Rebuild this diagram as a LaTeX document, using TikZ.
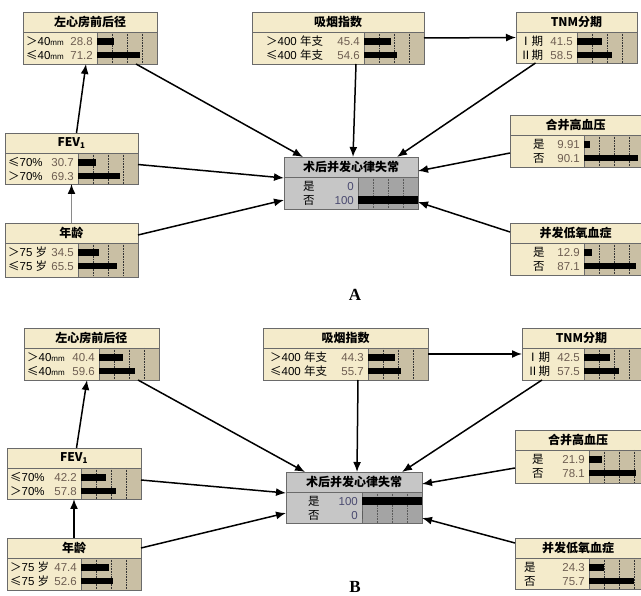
\documentclass[tikz,border=0pt]{standalone}
\usepackage{fontspec}
\setmainfont{Liberation Sans}
\newfontfamily\cjk{Noto Sans CJK SC}
\newfontfamily\serifbf{Liberation Serif}
\usetikzlibrary{arrows.meta,calc}

\definecolor{creamfill}{HTML}{F4EBCB}
\definecolor{creambar}{HTML}{C9BFA4}
\definecolor{grayfill}{HTML}{C6C6C6}
\definecolor{graybar}{HTML}{A4A4A4}
\definecolor{bordercol}{HTML}{6A6A6A}
\definecolor{creamval}{HTML}{6E5E52}
\definecolor{grayval}{HTML}{4A4A70}
\definecolor{linkgray}{HTML}{8A8A8A}

\tikzset{
  netbox/.style={draw=bordercol, line width=0.9pt, inner sep=0pt, outer sep=0pt, anchor=north west},
  titletext/.style={font=\fontsize{12}{13}\selectfont\cjk\bfseries, inner sep=0pt},
  rowtext/.style={font=\fontsize{11.5}{12}\selectfont, inner sep=0pt, anchor=base west},
  valtext/.style={font=\fontsize{11.5}{12}\selectfont, inner sep=0pt, anchor=base east},
  link/.style={line width=1.5pt, -{Latex[length=10pt,width=8pt,color=black]}},
  creamgrid/.style={densely dotted, line width=0.6pt, draw=black!80},
  graygrid/.style={densely dotted, line width=0.6pt, draw=black!65},
  caplabel/.style={font=\serifbf\bfseries\fontsize{17}{17}\selectfont, inner sep=0pt},
}

\newcommand\sgt{{\cjk ＞}}
\newcommand\sle{{\cjk ≤}}
\newcommand\mmu{{\fontsize{8}{8}\selectfont mm}}
\def\barh{3.2}

\newcommand\netframe[9]{%
  \gdef\nname{#1}\gdef\nxa{#2}\gdef\nya{#3}\gdef\nxb{#4}\gdef\ndiv{#6}\gdef\noff{#7}\gdef\nkind{#8}%
  \node[netbox, fill=#8fill, minimum width={(#4-#2)*1pt}, minimum height={(#5-#3)*1pt}] (#1) at (#2,#3) {};
  \fill[#8bar] (#6,#3+20) rectangle (#4,#5);
  \foreach \k in {15,30,45} {\draw[#8grid] (#6+\k,#3+20) -- (#6+\k,#5);}
  \draw[bordercol, line width=0.7pt] (#2,#3+20) -- (#4,#3+20) (#6,#3+20) -- (#6,#5);
  \draw[bordercol, line width=0.9pt] (#1.north west) rectangle (#1.south east);
  \node[titletext] (#1-t) at ({(#2+#4)/2},#3+10) {#9};
}

\newcommand\netrow[4]{%
  \ifnum#1=1 \def\roff{9.5}\else\def\roff{23}\fi
  \pgfmathsetmacro\ry{\nya+20+\roff}%
  \node[rowtext] (\nname-l#1) at ({\nxa+\noff},\ry+4.1) {#2};
  \node[valtext, text=\nkind val] (\nname-v#1) at ({\ndiv-4},\ry+4.1) {#3};
  \pgfmathsetmacro\rx{\ndiv+0.6*#4}%
  \fill[black] (\ndiv,\ry-\barh) rectangle (\rx,\ry+\barh);
}

\begin{document}
\begin{tikzpicture}[x=1pt,y=-1pt]
\useasboundingbox (0,0) rectangle (641,596);
\fill[white] (0,0) rectangle (641,596);

% ================= Panel A =================
\netframe{lA}{23}{12}{157}{64}{97}{3}{cream}{左心房前后径}
\netrow{1}{\sgt 40\mmu}{28.8}{28.8}
\netrow{2}{\sle 40\mmu}{71.2}{71.2}

\netframe{sA}{252}{12}{424}{64}{364}{14}{cream}{吸烟指数}
\netrow{1}{\sgt 400 {\cjk 年支}}{45.4}{45.4}
\netrow{2}{\sle 400 {\cjk 年支}}{54.6}{54.6}

\netframe{tA}{516}{12}{637}{63}{577}{4}{cream}{TNM分期}
\netrow{1}{{\cjk Ⅰ期}}{41.5}{41.5}
\netrow{2}{{\cjk Ⅱ期}}{58.5}{58.5}

\netframe{fA}{5}{133}{138}{184}{78}{3}{cream}{FEV\textsubscript{1}}
\netrow{1}{\sle 70\%}{30.7}{30.7}
\netrow{2}{\sgt 70\%}{69.3}{69.3}

\netframe{aA}{5}{223}{138}{277}{78}{3}{cream}{年龄}
\netrow{1}{\sgt 75 {\cjk 岁}}{34.5}{34.5}
\netrow{2}{\sle 75 {\cjk 岁}}{65.5}{65.5}

\netframe{hA}{510}{115}{641}{167}{584}{23}{cream}{合并高血压}
\netrow{1}{{\cjk 是}}{9.91}{9.91}
\netrow{2}{{\cjk 否}}{90.1}{90.1}

\netframe{dA}{510}{223}{641}{275}{584}{23}{cream}{并发低氧血症}
\netrow{1}{{\cjk 是}}{12.9}{12.9}
\netrow{2}{{\cjk 否}}{87.1}{87.1}

\def\barh{4}
\netframe{cA}{284}{157}{418}{209}{358}{19}{gray}{术后并发心律失常}
\netrow{1}{{\cjk 是}}{0}{0}
\netrow{2}{{\cjk 否}}{100}{100}
\def\barh{3.2}

\draw[link] ($(fA.north)+(5,0)$) -- ($(lA.south)+(-4,0)$);
\draw[link, draw=linkgray] (aA.north) -- (fA.south);
\draw[link] ($(lA.south)+(46,0)$) -- ($(cA.north west)+(19,0)$);
\draw[link] ($(sA.south)+(18,0)$) -- ($(cA.north)+(2,0)$);
\draw[link] ($(tA.south)+(-41,0)$) -- ($(cA.north)+(46,0)$);
\draw[link] (sA.east) -- (tA.west);
\draw[link] ($(hA.west)+(0,12)$) -- ($(cA.east)+(0,-12)$);
\draw[link] ($(dA.west)+(0,-17)$) -- ($(cA.east)+(0,19)$);
\draw[link] ($(fA.east)+(0,6)$) -- ($(cA.west)+(0,-5)$);
\draw[link] ($(aA.east)+(0,-15)$) -- ($(cA.west)+(0,17)$);

\node[caplabel] (labA) at (355,295) {A};

% ================= Panel B =================
\netframe{lB}{24}{328}{159}{380}{99}{3}{cream}{左心房前后径}
\netrow{1}{\sgt 40\mmu}{40.4}{40.4}
\netrow{2}{\sle 40\mmu}{59.6}{59.6}

\netframe{sB}{263}{328}{428}{380}{368}{7}{cream}{吸烟指数}
\netrow{1}{\sgt 400 {\cjk 年支}}{44.3}{44.3}
\netrow{2}{\sle 400 {\cjk 年支}}{55.7}{55.7}

\netframe{tB}{522}{328}{641}{380}{584}{5}{cream}{TNM分期}
\netrow{1}{{\cjk Ⅰ期}}{42.5}{42.5}
\netrow{2}{{\cjk Ⅱ期}}{57.5}{57.5}

\netframe{fB}{7}{448}{141}{499}{81}{3}{cream}{FEV\textsubscript{1}}
\netrow{1}{\sle 70\%}{42.2}{42.2}
\netrow{2}{\sgt 70\%}{57.8}{57.8}

\netframe{aB}{7}{538}{141}{590}{81}{3}{cream}{年龄}
\netrow{1}{\sgt 75 {\cjk 岁}}{47.4}{47.4}
\netrow{2}{\sle 75 {\cjk 岁}}{52.6}{52.6}

\netframe{hB}{515}{430}{641}{483}{589}{17}{cream}{合并高血压}
\netrow{1}{{\cjk 是}}{21.9}{21.9}
\netrow{2}{{\cjk 否}}{78.1}{78.1}

\netframe{dB}{515}{538}{641}{589}{589}{9}{cream}{并发低氧血症}
\netrow{1}{{\cjk 是}}{24.3}{24.3}
\netrow{2}{{\cjk 否}}{75.7}{75.7}

\def\barh{4}
\netframe{cB}{286}{472}{422}{523}{362}{22}{gray}{术后并发心律失常}
\netrow{1}{{\cjk 是}}{100}{100}
\netrow{2}{{\cjk 否}}{0}{0}
\def\barh{3.2}

\draw[link] ($(fB.north)+(2.5,0)$) -- ($(lB.south)+(-4.5,0)$);
\draw[link] (aB.north) -- (fB.south);
\draw[link] ($(lB.south)+(46.5,0)$) -- ($(cB.north west)+(19,0)$);
\draw[link] ($(sB.south)+(12.5,0)$) -- ($(cB.north)+(3,0)$);
\draw[link] ($(tB.south)+(-39.5,0)$) -- ($(cB.north)+(48,0)$);
\draw[link] (sB.east) -- (tB.west);
\draw[link] ($(hB.west)+(0,11.5)$) -- ($(cB.east)+(0,-13.5)$);
\draw[link] ($(dB.west)+(0,-20.5)$) -- ($(cB.east)+(0,20.5)$);
\draw[link] ($(fB.east)+(0,6.5)$) -- ($(cB.west)+(0,-4.5)$);
\draw[link] ($(aB.east)+(0,-16)$) -- ($(cB.west)+(0,15.5)$);

\node[caplabel] (labB) at (355,587) {B};
\end{tikzpicture}
\end{document}
